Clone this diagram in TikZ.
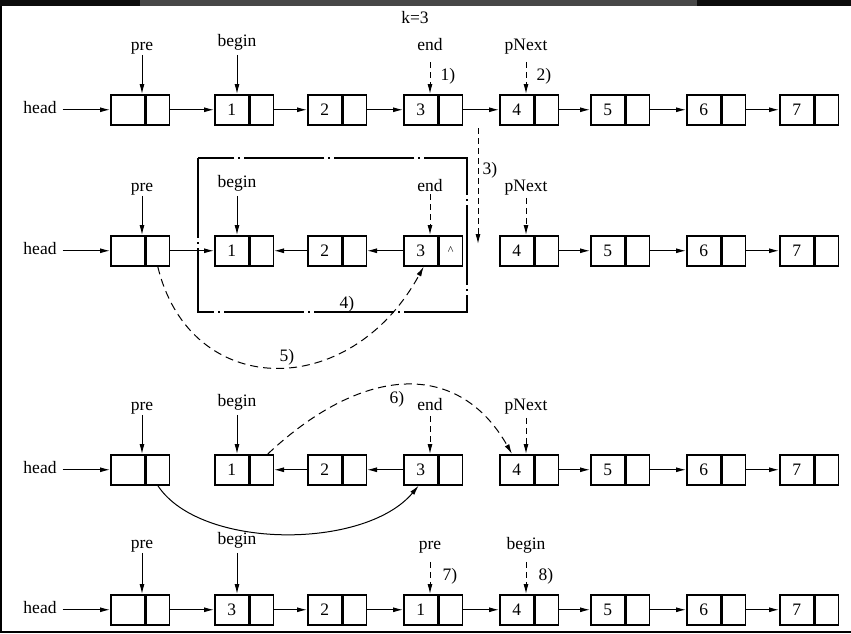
\documentclass[tikz,border=0pt]{standalone}
\usepackage{fontspec}
\setmainfont{Liberation Serif}
\usetikzlibrary{arrows.meta}
\newcommand\mkrow[3]{%
  \foreach \i/\xx/\t in {#3} {
    \node[lc] (#1b\i) at (\xx,#2) {\t};
    \node[rc] (#1b\i r) at (#1b\i.east) {};
  }}
\begin{document}
\begin{tikzpicture}[x=1pt,y=-1pt,
  txt/.style={font=\fontsize{17.5}{17.5}\selectfont},
  lc/.style={draw, line width=1.5pt, minimum width=34pt, minimum height=30pt, inner sep=0pt, anchor=north west, txt},
  rc/.style={draw, line width=1.5pt, minimum width=23pt, minimum height=30pt, inner sep=0pt, anchor=west},
  lbl/.style={txt, inner sep=0pt, anchor=base},
  link/.style={line width=1pt, -{Latex[length=10pt,width=5pt]}},
  dlink/.style={link, dash pattern=on 6pt off 4pt},
  dcurve/.style={link, dash pattern=on 8pt off 5pt},
  dashdotbox/.style={line width=1.2pt, dash pattern=on 80pt off 4pt on 2pt off 4pt},
]
\useasboundingbox (0,0) rectangle (851,633);
% screenshot band and frame
\fill[black!95] (0,0) rectangle (851,6);
\fill[black!72] (140,0) rectangle (697,6);
\draw[line width=1.5pt] (1,6) -- (1,632) -- (851,632);

% ---------- row 1 ----------
\node[lbl] (k) at (415,23) {k=3};
\node[lbl] (h1) at (40,113) {head};
\mkrow{r1}{94}{0/110/{},1/214/1,2/307/2,3/403/3,4/499/4,5/590/5,6/686/6,7/779/7}
\node[lbl] (p1) at (142,50) {pre};
\node[lbl] (g1) at (237,46) {begin};
\node[lbl] (e1) at (430,50) {end};
\node[lbl] (n1) at (526,50) {pNext};
\node[lbl] (s1) at (448,80) {1)};
\node[lbl] (s2) at (544,80) {2)};
\draw[link] (h1.east) ++(6,0) coordinate (h1a) (h1a |- r1b0.west) -- (r1b0.west);
\draw[link, shorten <=1pt] (p1.south) -- (p1.south |- r1b0.north);
\draw[link, shorten <=5pt] (g1.south) -- (g1.south |- r1b1.north);
\draw[dlink, shorten <=12pt] (e1.south) -- (e1.south |- r1b3.north);
\draw[dlink, shorten <=8pt] (n1.south) -- (n1.south |- r1b4.north);
\foreach \a/\b in {0/1,1/2,2/3,3/4,4/5,5/6,6/7}
  \draw[link] (r1b\a r.east) -- (r1b\b.west);

% step 3
\coordinate (c3a) at (478,128);
\coordinate (c3b) at (478,244);
\draw[dlink] (c3a) -- (c3b);
\node[lbl] (s3) at (490,174) {3)};

% ---------- row 2 ----------
\node[lbl] (h2) at (40,254) {head};
\mkrow{r2}{235}{0/110/{},1/214/1,2/307/2,3/403/3,4/499/4,5/590/5,6/686/6,7/779/7}
\node[txt, font=\fontsize{12}{12}\selectfont, inner sep=0pt] (hat) at (r2b3r.center) {\textasciicircum};
\node[lbl] (p2) at (142,191) {pre};
\node[lbl] (g2) at (237,187) {begin};
\node[lbl] (e2) at (430,191) {end};
\node[lbl] (n2) at (526,191) {pNext};
\draw[dashdotbox] (198,158) rectangle (467,312);
\node[lbl] (s4) at (347,308) {4)};
\draw[link] (h2.east) ++(6,0) coordinate (h2a) (h2a |- r2b0.west) -- (r2b0.west);
\draw[link, shorten <=1pt] (p2.south) -- (p2.south |- r2b0.north);
\draw[link, shorten <=5pt] (g2.south) -- (g2.south |- r2b1.north);
\draw[dlink, shorten <=3pt] (e2.south) -- (e2.south |- r2b3.north);
\draw[dlink, shorten <=3pt] (n2.south) -- (n2.south |- r2b4.north);
\draw[link] (r2b0r.east) -- (r2b1.west);
\draw[link] (r2b2.west) -- (r2b1r.east);
\draw[link] (r2b3.west) -- (r2b2r.east);
\foreach \a/\b in {4/5,5/6,6/7}
  \draw[link] (r2b\a r.east) -- (r2b\b.west);
% step 5
\draw[dcurve] (r2b0r.south) .. controls (190,400) and (350,402) .. ([xshift=3pt]r2b3.south);
\node[lbl] (s5) at (287,361) {5)};

% ---------- row 3 ----------
\node[lbl] (h3) at (40,473) {head};
\mkrow{r3}{454}{0/110/{},1/214/1,2/307/2,3/403/3,4/499/4,5/590/5,6/686/6,7/779/7}
\node[lbl] (p3) at (142,410) {pre};
\node[lbl] (g3) at (237,406) {begin};
\node[lbl] (e3) at (430,410) {end};
\node[lbl] (n3) at (526,410) {pNext};
\node[lbl] (s6) at (397,403) {6)};
\draw[link] (h3.east) ++(6,0) coordinate (h3a) (h3a |- r3b0.west) -- (r3b0.west);
\draw[link, shorten <=1pt] (p3.south) -- (p3.south |- r3b0.north);
\draw[link, shorten <=5pt] (g3.south) -- (g3.south |- r3b1.north);
\draw[dlink, shorten <=6pt] (e3.south) -- (e3.south |- r3b3.north);
\draw[dlink, shorten <=4pt] (n3.south) -- (n3.south |- r3b4.north);
\draw[link] (r3b2.west) -- (r3b1r.east);
\draw[link] (r3b3.west) -- (r3b2r.east);
\foreach \a/\b in {4/5,5/6,6/7}
  \draw[link] (r3b\a r.east) -- (r3b\b.west);
% step 6
\draw[dcurve] ([xshift=6pt]r3b1r.north) .. controls (366,362) and (460,362) .. ([xshift=13pt]r3b4.north west);
% pre link to 3
\draw[link] (r3b0r.south) .. controls (200,550) and (365,550) .. ([xshift=-2pt]r3b3.south);

% ---------- row 4 ----------
\node[lbl] (h4) at (40,613) {head};
\mkrow{r4}{594}{0/110/{},1/214/3,2/307/2,3/403/1,4/499/4,5/590/5,6/686/6,7/779/7}
\node[lbl] (p4) at (142,548) {pre};
\node[lbl] (g4) at (237,544) {begin};
\node[lbl] (p4b) at (430,549) {pre};
\node[lbl] (g4b) at (526,549) {begin};
\node[lbl] (s7) at (450,580) {7)};
\node[lbl] (s8) at (546,580) {8)};
\draw[link] (h4.east) ++(6,0) coordinate (h4a) (h4a |- r4b0.west) -- (r4b0.west);
\draw[link, shorten <=1pt] (p4.south) -- (p4.south |- r4b0.north);
\draw[link, shorten <=5pt] (g4.south) -- (g4.south |- r4b1.north);
\draw[dlink, shorten <=9pt] (p4b.south) -- (p4b.south |- r4b3.north);
\draw[dlink, shorten <=9pt] (g4b.south) -- (g4b.south |- r4b4.north);
\foreach \a/\b in {0/1,1/2,2/3,3/4,4/5,5/6,6/7}
  \draw[link] (r4b\a r.east) -- (r4b\b.west);
\end{tikzpicture}
\end{document}
